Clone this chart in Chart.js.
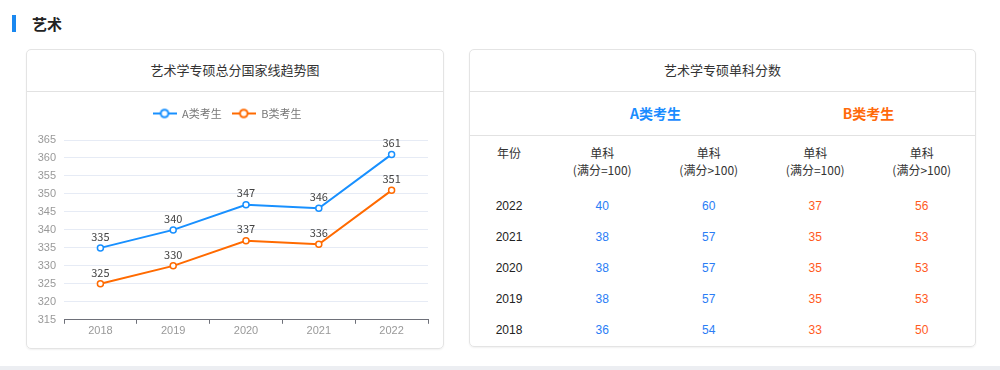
<!DOCTYPE html>
<html>
<head>
<meta charset="utf-8">
<script src="https://cdn.jsdelivr.net/npm/chart.js@4"></script>
<style>
  body { margin: 0; width: 1000px; height: 370px; background: #fff; position: relative; overflow: hidden;
         font-family: "Microsoft YaHei", "Noto Sans CJK SC", sans-serif; color: #333; }
  .abs { position: absolute; }
  .bar { left: 12px; top: 15px; width: 4px; height: 17px; background: #1a88f0; }
  .head { left: 32px; top: 13px; font-size: 15px; font-weight: bold; line-height: 22px; color: #222; }
  .card { box-sizing: border-box; border: 1px solid #e4e4e4; border-radius: 5px; box-shadow: 0 1px 2px rgba(0,0,0,0.06); }
  .ctitle { font-size: 13px; line-height: 20px; text-align: center; color: #333; }
  .line { height: 1px; background: #e2e2e2; }
  .strip { left: 0; top: 366px; width: 1000px; height: 4px; background: #eceef2; }
  table { border-collapse: collapse; table-layout: fixed; font-size: 12px; }
  td { text-align: center; padding: 0; }
  .hdr td { height: 55px; vertical-align: top; padding-top: 8px; line-height: 17px; box-sizing: border-box; }
  .row td { height: 31px; line-height: 31px; font-family: "Liberation Sans", Arial, sans-serif; }
  .row td:first-child { color: #222; }
  .ca { color: #2a7df5; }
  .cb { color: #ff5a1e; }
</style>
</head>
<body>
<div class="abs bar"></div>
<div class="abs head">艺术</div>
<div class="abs strip"></div>

<!-- 左: 总分趋势图 -->
<div class="abs card" style="left:26px;top:49px;width:418px;height:300px;"></div>
<div class="abs ctitle" style="left:26px;top:60px;width:418px;">艺术学专硕总分国家线趋势图</div>
<div class="abs line" style="left:27px;top:91px;width:416px;"></div>
<div class="abs" style="left:26px;top:92px;width:417px;height:256px;">
  <canvas id="lineChart"></canvas>
</div>

<!-- 右: 单科分数 -->
<div class="abs card" style="left:469px;top:49px;width:507px;height:298px;"></div>
<div class="abs ctitle" style="left:469px;top:60px;width:507px;">艺术学专硕单科分数</div>
<div class="abs line" style="left:470px;top:91px;width:505px;"></div>
<div class="abs" style="left:549px;top:103px;width:213px;text-align:center;font-size:14px;font-weight:bold;line-height:20px;color:#1a8cff;">A类考生</div>
<div class="abs" style="left:762px;top:103px;width:213px;text-align:center;font-size:14px;font-weight:bold;line-height:20px;color:#ff6a0a;">B类考生</div>
<div class="abs line" style="left:470px;top:135px;width:505px;"></div>
<table class="abs" id="scoreTable" style="left:469px;top:136px;width:506px;">
  <colgroup><col style="width:80px"><col style="width:106.5px"><col style="width:106.5px"><col style="width:106.5px"><col style="width:106.5px"></colgroup>
  <tbody id="tbody"></tbody>
</table>

<script>
// 总分趋势
const years = ["2018", "2019", "2020", "2021", "2022"];
const scoreA = [335, 340, 347, 346, 361];
const scoreB = [325, 330, 337, 336, 351];
const yTicks = [315, 320, 325, 330, 335, 340, 345, 350, 355, 360, 365];

// 单科分数表
const tableYears = ["2022", "2021", "2020", "2019", "2018"];
const aEq100 = [40, 38, 38, 38, 36];
const aGt100 = [60, 57, 57, 57, 54];
const bEq100 = [37, 35, 35, 35, 33];
const bGt100 = [56, 53, 53, 53, 50];

const blue = "#1890ff";
const orange = "#ff6a00";

// 表格
let html = '<tr class="hdr"><td>年份</td><td>单科<br>(满分=100)</td><td>单科<br>(满分&gt;100)</td><td>单科<br>(满分=100)</td><td>单科<br>(满分&gt;100)</td></tr>';
tableYears.forEach((y, i) => {
    html += `<tr class="row"><td>${y}</td><td class="ca">${aEq100[i]}</td><td class="ca">${aGt100[i]}</td><td class="cb">${bEq100[i]}</td><td class="cb">${bGt100[i]}</td></tr>`;
});
document.getElementById("tbody").innerHTML = html;

// 图例图标: 线 + 空心圆
function legendIcon(color) {
    let c = document.createElement("canvas");
    c.width = 24; c.height = 12;
    let g = c.getContext("2d");
    g.strokeStyle = color;
    g.lineWidth = 2;
    g.beginPath(); g.moveTo(0, 6); g.lineTo(24, 6); g.stroke();
    g.fillStyle = "#fff";
    g.beginPath(); g.arc(12, 6, 3.8, 0, Math.PI * 2); g.fill(); g.stroke();
    return c;
}
const icons = [legendIcon(blue), legendIcon(orange)];

// 数据标签
const valueLabels = {
    id: "valueLabels",
    afterDatasetsDraw(chart) {
        const ctx = chart.ctx;
        ctx.save();
        ctx.font = "11px 'Microsoft YaHei', 'Noto Sans CJK SC', sans-serif";
        ctx.fillStyle = "#444";
        ctx.textAlign = "center";
        ctx.textBaseline = "bottom";
        chart.data.datasets.forEach((ds, i) => {
            chart.getDatasetMeta(i).data.forEach((pt, j) => {
                ctx.fillText(ds.data[j], pt.x, pt.y - 6);
            });
        });
        ctx.restore();
    }
};

// 图例下方留白
const legendGap = {
    id: "legendGap",
    beforeInit(chart) {
        const fit = chart.legend.fit;
        chart.legend.fit = function () {
            fit.bind(chart.legend)();
            this.height += 11;
        };
    }
};

new Chart(document.getElementById("lineChart"), {
    type: "line",
    data: {
        labels: years,
        datasets: [
            { label: "A类考生", data: scoreA, borderColor: blue, backgroundColor: "#fff" },
            { label: "B类考生", data: scoreB, borderColor: orange, backgroundColor: "#fff" }
        ]
    },
    options: {
        responsive: true,
        maintainAspectRatio: false,
        animation: false,
        layout: { padding: { top: 6, right: 15, bottom: 9, left: 0 } },
        elements: {
            line: { borderWidth: 2, tension: 0 },
            point: { radius: 3, borderWidth: 1.5, pointStyle: "circle" }
        },
        plugins: {
            tooltip: { enabled: false },
            legend: {
                position: "top",
                labels: {
                    usePointStyle: true,
                    pointStyleWidth: 24,
                    padding: 10,
                    color: "#777",
                    font: { size: 11, family: "'Microsoft YaHei', 'Noto Sans CJK SC', sans-serif" },
                    generateLabels(chart) {
                        let items = Chart.defaults.plugins.legend.labels.generateLabels(chart);
                        items.forEach((it, i) => { it.pointStyle = icons[i]; });
                        return items;
                    }
                }
            }
        },
        scales: {
            x: {
                offset: true,
                grid: { offset: true, drawOnChartArea: false, drawTicks: true, tickLength: 4, tickColor: "#6e7079" },
                border: { color: "#6e7079" },
                ticks: { color: "#999", padding: 1, font: { size: 11 } }
            },
            y: {
                min: 315,
                max: 365,
                afterBuildTicks(scale) { scale.ticks = yTicks.map(v => ({ value: v })); },
                afterFit(scale) { scale.width = 38; },
                grid: { color: "#e6ebf5", drawTicks: false },
                border: { display: false },
                ticks: { color: "#999", padding: 8, font: { size: 11 } }
            }
        }
    },
    plugins: [valueLabels, legendGap]
});
</script>
</body>
</html>
